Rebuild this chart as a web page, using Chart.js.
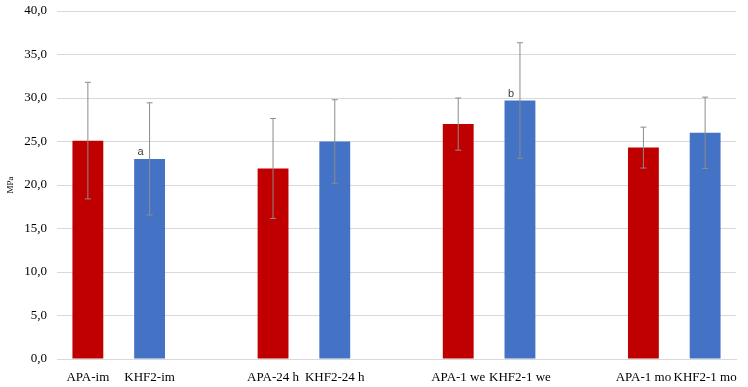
<!DOCTYPE html>
<html>
<head>
<meta charset="utf-8">
<script src="https://cdn.jsdelivr.net/npm/chart.js@4"></script>
<style>
  html, body { margin: 0; padding: 0; background: #fff; }
  .wrap { width: 748px; height: 387px; }
</style>
</head>
<body>
<div class="wrap"><canvas class="chart"></canvas></div>
<script>
// empty strings are the gaps between the groups
const labels = ['APA-im', 'KHF2-im', '', 'APA-24 h', 'KHF2-24 h', '', 'APA-1 we', 'KHF2-1 we', '', 'APA-1 mo', 'KHF2-1 mo'];
const means = [25.1, 23.0, null, 21.9, 25.0, null, 27.0, 29.7, null, 24.3, 26.0];
const sd = [6.7, 6.45, null, 5.75, 4.8, null, 3.0, 6.65, null, 2.35, 4.1];
const marks = ['', 'a', '', '', '', '', '', 'b', '', '', ''];
const colors = ['#C00000', '#4472C4', null, '#C00000', '#4472C4', null, '#C00000', '#4472C4', null, '#C00000', '#4472C4'];

const errorBars = {
  id: 'errorBars',
  afterDatasetsDraw(chart) {
    const ctx = chart.ctx;
    const y = chart.scales.y;
    const meta = chart.getDatasetMeta(0);
    ctx.save();
    meta.data.forEach((bar, i) => {
      if (means[i] == null) return;
      const x = bar.x;
      const top = y.getPixelForValue(means[i] + sd[i]);
      const bot = y.getPixelForValue(means[i] - sd[i]);
      ctx.strokeStyle = '#8c8c8c';
      ctx.lineWidth = 1;
      ctx.beginPath();
      ctx.moveTo(x, top); ctx.lineTo(x, bot);
      ctx.moveTo(x - 3, top); ctx.lineTo(x + 3, top);
      ctx.moveTo(x - 3, bot); ctx.lineTo(x + 3, bot);
      ctx.stroke();
      if (marks[i]) {
        ctx.fillStyle = '#404040';
        ctx.font = '11px "Liberation Sans", Arial, sans-serif';
        ctx.textAlign = 'center';
        ctx.textBaseline = 'middle';
        ctx.fillText(marks[i], x - 9, bar.y - 7);
      }
    });
    ctx.restore();
  }
};

const data = {
  labels: labels,
  datasets: [{
    data: means,
    backgroundColor: colors,
    barPercentage: 1,
    categoryPercentage: 0.5
  }]
};

const config = {
  type: 'bar',
  data: data,
  plugins: [errorBars],
  options: {
    responsive: true,
    maintainAspectRatio: false,
    animation: false,
    layout: { padding: { top: 0, right: 12, left: 0, bottom: 0 } },
    plugins: {
      legend: { display: false },
      tooltip: { enabled: false }
    },
    scales: {
      x: {
        grid: { display: false },
        border: { color: '#d9d9d9' },
        ticks: {
          color: '#000',
          font: { family: '"Liberation Serif", "Times New Roman", serif', size: 13 },
          maxRotation: 0,
          autoSkip: false,
          padding: 3
        },
        afterFit(scale) { scale.height = 28; }
      },
      y: {
        min: 0,
        max: 40,
        ticks: {
          stepSize: 5,
          color: '#000',
          padding: 10,
          font: { family: '"Liberation Serif", "Times New Roman", serif', size: 13 },
          callback: v => v.toFixed(1).replace('.', ',')
        },
        grid: { color: '#d9d9d9', drawTicks: false },
        border: { display: false },
        title: {
          display: true,
          text: 'MPa',
          color: '#000',
          font: { family: '"Liberation Serif", "Times New Roman", serif', size: 9 },
          padding: { top: 5, bottom: 0 }
        },
        afterFit(scale) {
          scale.width = 57;
          scale.paddingTop = 11;
        }
      }
    }
  }
};

const myChart = new Chart(document.querySelector('.chart'), config);
</script>
</body>
</html>
